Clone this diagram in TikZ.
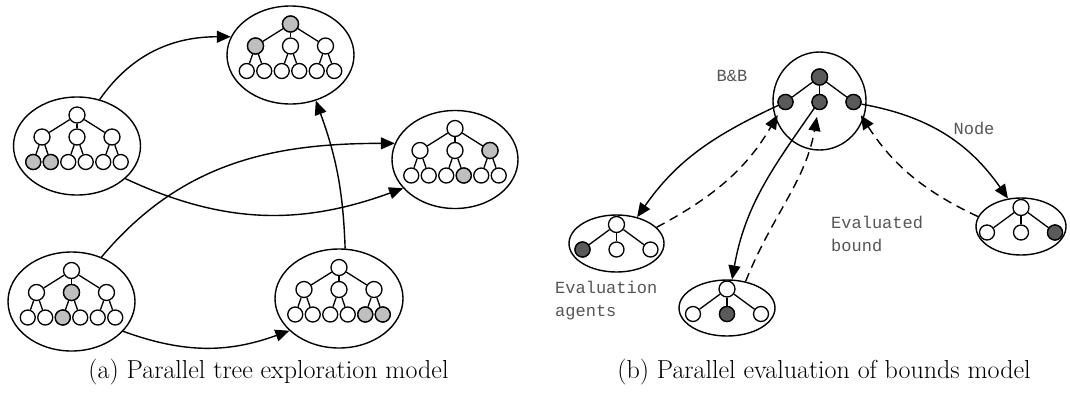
\documentclass[tikz,border=0pt]{standalone}
\usepackage{fontspec}
\setmonofont{Liberation Mono}
\usetikzlibrary{shapes.geometric,arrows.meta}
\definecolor{shadegray}{RGB}{191,191,191}
\definecolor{evalgray}{RGB}{90,90,90}
\definecolor{labelgray}{RGB}{85,85,85}

\tikzset{
  tnode/.style={circle, draw, fill=white, line width=1.3pt, inner sep=0pt, minimum size=16pt},
  leaf/.style={tnode, minimum size=15pt},
  schild/.style={tnode, minimum size=15pt},
  box/.style={ellipse, draw, line width=1.4pt, inner sep=0pt},
  link/.style={line width=1.4pt, -{Triangle[length=14pt,width=12pt]}},
  back/.style={link, dash pattern=on 9pt off 6pt, shorten >=7pt},
  lbl/.style={font=\ttfamily\fontsize{17}{23}\selectfont, text=labelgray, align=left, inner sep=0pt},
  captext/.style={font=\fontsize{26}{30}\selectfont, inner sep=0pt},
}

% tree with 3 + 6 nodes: prefix, centre, shaded nodes (name/style)
\newcommand{\bigtree}[3]{%
  \begin{scope}[shift={#2}]
    \node[tnode] (#1r) at (0,31) {};
    \foreach \m/\x in {1/-35,2/0,3/35} {
      \node[tnode] (#1m\m) at (\x,9) {};
      \draw[line width=1.3pt] (#1r) -- (#1m\m);
    }
    \foreach \l/\x/\m in {1/-43.75/1,2/-26.25/1,3/-8.75/2,4/8.75/2,5/26.25/3,6/43.75/3} {
      \node[leaf] (#1l\l) at (\x,-16) {};
      \draw[line width=1.3pt] (#1m\m) -- (#1l\l);
    }
    \foreach \s/\st in {#3} \node[\st, fill=shadegray] at (#1\s) {};
  \end{scope}}

% tree with 1 + 3 nodes: prefix, centre, dark nodes (name/style)
\newcommand{\smalltree}[3]{%
  \begin{scope}[shift={#2}]
    \node[tnode] (#1r) at (0,19) {};
    \foreach \c/\x in {1/-34,2/0,3/34} {
      \node[schild] (#1c\c) at (\x,-6) {};
      \draw[line width=1.3pt] (#1r) -- (#1c\c);
    }
    \foreach \s/\st in {#3} \node[\st, fill=evalgray] at (#1\s) {};
  \end{scope}}

\begin{document}
\begin{tikzpicture}[x=1pt,y=1pt]
  \useasboundingbox (0,0) rectangle (1070,-410);

  % (a) parallel tree exploration
  \node[box, minimum width=127pt, minimum height=98pt] (ea) at (77,-146) {};
  \node[box, minimum width=127pt, minimum height=98pt] (eb) at (290.5,-55) {};
  \node[box, minimum width=126pt, minimum height=98pt] (ec) at (455,-159.5) {};
  \node[box, minimum width=127pt, minimum height=99pt] (ed) at (71.5,-301.5) {};
  \node[box, minimum width=128pt, minimum height=99pt] (ee) at (339,-298.5) {};

  \bigtree{ta}{(77,-146)}{l1/leaf,l2/leaf}
  \bigtree{tb}{(290.5,-55)}{r/tnode,m1/tnode}
  \bigtree{tc}{(455,-159.5)}{m3/tnode,l4/leaf}
  \bigtree{td}{(71.5,-301.5)}{m2/tnode,l3/leaf}
  \bigtree{te}{(339,-298.5)}{l5/leaf,l6/leaf}

  \draw[link] (ea.64) to[out=55,in=180] (eb.163);
  \draw[link] (ea.-34) to[out=-25,in=200] (ec.-151);
  \draw[link] (ed.56) to[out=50,in=180] (ec.165);
  \draw[link] (ee.83) to[out=92,in=-70] (eb.-61);
  \draw[link] (ed.-30) to[out=-20,in=-160] (ee.-147);

  % (b) parallel evaluation of bounds
  \node[box, minimum width=93pt, minimum height=98pt] (bb) at (819.5,-101) {};
  \smalltree{bt}{(819.5,-96)}{r/tnode,c1/schild,c2/schild,c3/schild}

  \node[box, minimum width=95pt, minimum height=57pt] (ag1) at (616.5,-243.5) {};
  \node[box, minimum width=96pt, minimum height=56pt] (ag2) at (727,-308) {};
  \node[box, minimum width=90pt, minimum height=57pt] (ag3) at (1021,-226.5) {};
  \smalltree{sa}{(616.5,-243.5)}{c1/schild}
  \smalltree{sb}{(727,-308)}{c2/schild}
  \smalltree{sc}{(1021,-226.5)}{c3/schild}

  \draw[link] (btc1.205) to[out=205,in=55] (ag1.52);
  \draw[back] (ag1.22) to[out=28,in=-120] (btc1.238);
  \draw[link] (btc2.230) to[out=235,in=80] (ag2.80);
  \draw[back] (ag2.55) to[out=68,in=-100] (btc2.-100);
  \draw[link] (btc3.-15) to[out=-10,in=125] (ag3.115);
  \draw[back] (ag3.167) to[out=155,in=-57] (btc3.-65);

  \node[lbl] (lbb) at (732,-76) {B\&B};
  \node[lbl] (lnode) at (974,-128) {Node};
  \node[lbl, anchor=west] (lagents) at (555,-301) {Evaluation\\agents};
  \node[lbl, anchor=west] (lbound) at (831,-233.5) {Evaluated\\bound};

  % captions
  \node[captext] (capa) at (268.5,-372) {(a) Parallel tree exploration model};
  \node[captext] (capb) at (824,-372) {(b) Parallel evaluation of bounds model};
\end{tikzpicture}
\end{document}
